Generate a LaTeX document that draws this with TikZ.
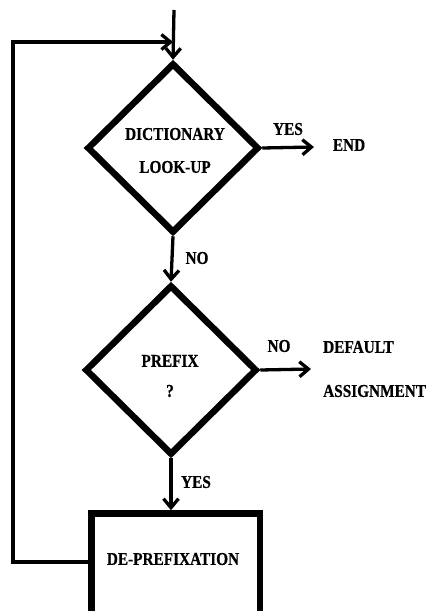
\documentclass[tikz,border=0pt]{standalone}
\usepackage{fontspec}
\setmainfont{Liberation Serif}[FakeStretch=0.85, BoldFeatures={FakeBold=0.6}]
\usetikzlibrary{shapes.geometric,arrows.meta,calc}
\begin{document}
\begin{tikzpicture}[x=1pt,y=-1pt,
  dia/.style={diamond, draw, line width=6.5pt, minimum width=172pt, minimum height=170pt, inner sep=0pt},
  procbox/.style={rectangle, draw, line width=6.5pt, minimum width=168.5pt, minimum height=140pt, inner sep=0pt},
  lbl/.style={font=\fontsize{18}{33}\selectfont\bfseries, inner sep=0pt, align=center},
  flow/.style={line width=3.3pt, -{Straight Barb[length=9pt,width=15pt]}}]
\clip (0,0) rectangle (428,611);
% shapes
\node[dia] (d1) at (173,148) {};
\node[dia] (d2) at (171,370) {};
\node[procbox] (box) at (175.75,583.5) {};
% texts
\node[lbl] (t1) at (175,150.5) {DICTIONARY\\LOOK-UP};
\node[lbl, font=\fontsize{18}{30}\selectfont\bfseries] (t2) at (170,376) {PREFIX\\?};
\node[lbl] (dtext) at (173,559) {DE-PREFIXATION};
\node[lbl] (yes1) at (288,129) {YES};
\node[lbl] (end) at (349,145) {END};
\node[lbl] (no1) at (197,258) {NO};
\node[lbl] (no2) at (279,346) {NO};
\node[lbl, anchor=west] (default) at (323,347) {DEFAULT};
\node[lbl, anchor=west] (assign) at (323,391) {ASSIGNMENT};
\node[lbl] (yes2) at (196,482) {YES};
% coordinates
\coordinate (start) at (174,10);
\coordinate (e1) at (314,147);
\coordinate (e2) at (311,369);
\coordinate (c1) at (13,562);
\coordinate (c2) at (13,42);
\coordinate (c3) at (173,42);
% connectors
\draw[flow] (start) -- (d1.north);
\draw[flow] (d1.east) -- (e1);
\draw[flow] (d1.south) -- (d2.north);
\draw[flow] (d2.east) -- (e2);
\draw[flow] (d2.south) -- (d2.south |- box.north);
\draw[flow] (box.west |- c1) -- (c1) -- (c2) -- (c3);
\end{tikzpicture}
\end{document}
